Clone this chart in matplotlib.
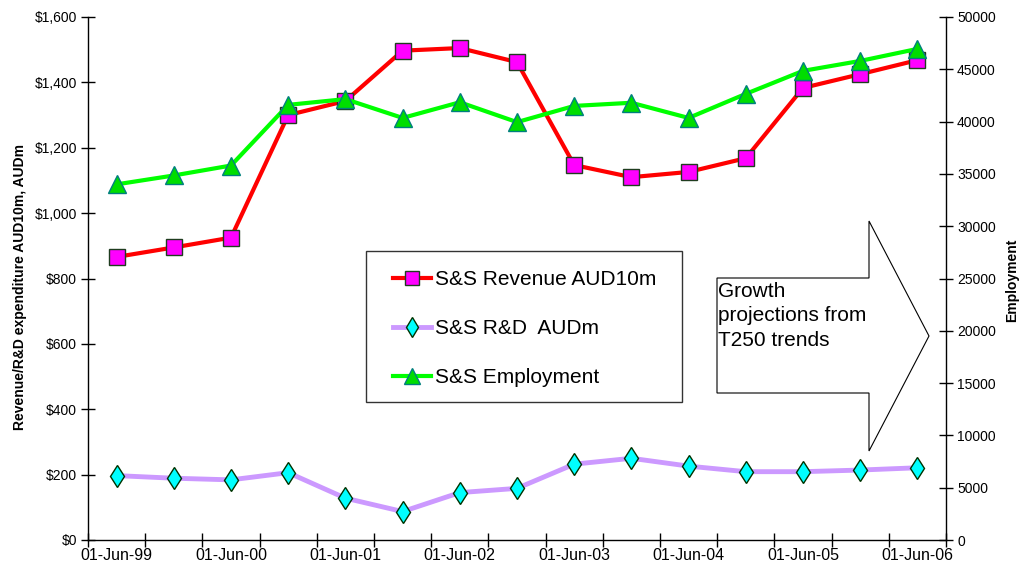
import matplotlib.pyplot as plt
import numpy as np
from matplotlib.patches import Polygon, Rectangle

plt.rcParams["font.family"] = ["Liberation Sans", "DejaVu Sans"]

# half-yearly categories, every second one is labelled
periods = [
    "01-Jun-99", "01-Dec-99", "01-Jun-00", "01-Dec-00", "01-Jun-01",
    "01-Dec-01", "01-Jun-02", "01-Dec-02", "01-Jun-03", "01-Dec-03",
    "01-Jun-04", "01-Dec-04", "01-Jun-05", "01-Dec-05", "01-Jun-06",
]
revenue = [866, 895, 925, 1300, 1343, 1497, 1505, 1462, 1147, 1110, 1126, 1168, 1383, 1425, 1468]
rnd = [197, 189, 184, 206, 128, 87, 145, 158, 232, 250, 226, 209, 209, 214, 221]
employment = [34000, 34850, 35800, 41600, 42150, 40350, 41850, 39950, 41500, 41800, 40350, 42650, 44850, 45800, 46950]

W, H = 1019, 573


def fx(px):
    return px / W


def fy(py):
    return 1 - py / H


fig = plt.figure(figsize=(W / 100, H / 100), dpi=100)
ax = fig.add_axes([fx(88), fy(540), (946 - 88) / W, (540 - 17) / H])
ax2 = ax.twinx()

x = np.arange(len(periods))

ax.plot(x, revenue, color="#ff0000", lw=3, marker="s", ms=12,
        mfc="#ff00ff", mec="#1f3d1f", mew=1, label="S&S Revenue AUD10m", zorder=3)
ax.plot(x, rnd, color="#cc99ff", lw=3.5, marker="d", ms=11.5,
        mfc="#00ffff", mec="#003300", mew=1, label="S&S R&D  AUDm", zorder=3)
ax2.plot(x, employment, color="#00ff00", lw=3, marker="^", ms=13,
         mfc="#00dd00", mec="#007f7f", mew=1, label="S&S Employment", zorder=3)

ax.set_xlim(-0.5, len(periods) - 0.5)
ax.set_ylim(0, 1600)
ax2.set_ylim(0, 50000)

# ticks on category boundaries, labels centred on categories
ax.set_xticks(np.arange(-0.5, len(periods), 1))
ax.set_xticklabels([])
ax.set_xticks(x[::2], minor=True)
ax.set_xticklabels(periods[::2], minor=True, fontsize=11.5)
ax.tick_params(axis="x", which="major", direction="inout", length=10, width=1)
ax.tick_params(axis="x", which="minor", length=0, pad=6)

ax.set_yticks(np.arange(0, 1601, 200))
ax.set_yticklabels([f"${v:,.0f}" for v in np.arange(0, 1601, 200)], fontsize=10)
ax.tick_params(axis="y", direction="inout", length=10, width=1, pad=3)

ax2.set_yticks(np.arange(0, 50001, 5000))
ax2.set_yticklabels([str(v) for v in np.arange(0, 50001, 5000)], fontsize=10)
ax2.tick_params(axis="y", direction="inout", length=10, width=1, pad=3)

for a in (ax, ax2):
    a.spines["top"].set_visible(False)
    for s in a.spines.values():
        s.set_linewidth(1)
ax.spines["right"].set_visible(False)
ax2.spines["left"].set_visible(False)
ax2.spines["bottom"].set_visible(False)

ax.set_ylabel("Revenue/R&D expenditure AUD10m, AUDm", fontsize=10, fontweight="bold")
ax.yaxis.set_label_coords(-0.0715, 0.484)
ax2.set_ylabel("Employment", fontsize=10, fontweight="bold")
ax2.yaxis.set_label_coords(1.069, 0.497)

# legend box
fig.patches.append(Rectangle((fx(366), fy(402)), (682 - 366) / W, (402 - 251) / H,
                             transform=fig.transFigure, facecolor="white",
                             edgecolor="#333333", lw=1, zorder=5))
h1, l1 = ax.get_legend_handles_labels()
h2, l2 = ax2.get_legend_handles_labels()
leg = fig.legend(h1 + h2, l1 + l2, loc="upper left",
                 bbox_to_anchor=(fx(393), fy(270)), frameon=False,
                 fontsize=15, handlelength=1.8, handletextpad=0.2,
                 labelspacing=1.45, borderpad=0, borderaxespad=0, markerscale=0.85)
leg.set_zorder(6)

# growth arrow
arrow_pts = [(717, 278), (869, 278), (869, 221), (929, 336), (869, 451), (869, 393), (717, 393)]
fig.patches.append(Polygon([(fx(px), fy(py)) for px, py in arrow_pts], closed=True,
                           transform=fig.transFigure, facecolor="white",
                           edgecolor="black", lw=0.8, zorder=5))
fig.text(fx(718), fy(282), "Growth\nprojections from\nT250 trends", fontsize=15,
         va="top", ha="left", linespacing=1.36, zorder=6)

fig.savefig("out.png", dpi=100)
